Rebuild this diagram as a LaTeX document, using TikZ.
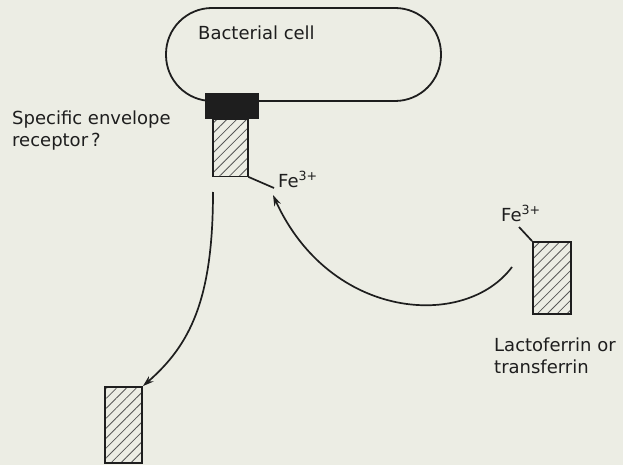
\documentclass[tikz,border=0pt]{standalone}
\usepackage{fontspec}
\setmainfont{DejaVu Sans}
\usetikzlibrary{patterns.meta,arrows.meta}
\definecolor{paper}{RGB}{236,237,228}
\definecolor{ink}{RGB}{30,30,30}
\tikzset{
  lbl/.style={font=\fontsize{18}{22}\selectfont, text=ink, inner sep=0pt, align=left},
  hatchbox/.style={draw=ink, line width=1.8pt, inner sep=0pt,
    pattern={Lines[angle=45,distance=7pt,line width=0.8pt]}, pattern color=ink!75},
  conn/.style={draw=ink, line width=1.7pt},
  arr/.style={conn, -{Stealth[length=11pt,width=7pt]}}
}
\begin{document}
\begin{tikzpicture}[x=1pt,y=-1pt]
\fill[paper] (0,0) rectangle (623,465);
\useasboundingbox (0,0) rectangle (623,465);
% bacterial cell
\node[draw=ink, line width=1.8pt, rounded corners=46pt, minimum width=275pt, minimum height=93pt, inner sep=0pt] (cell) at (303.5,54.5) {};
\node[lbl, anchor=base west] (celltxt) at (198,40) {Bacterial cell};
% receptor
\node[fill=ink, draw=ink, minimum width=53pt, minimum height=25pt, inner sep=0pt] (rec) at (231.5,106) {};
\node[hatchbox, minimum width=35pt, minimum height=57pt] (h1) at (230.5,148) {};
\node[lbl, anchor=base west] (rectxt) at (12,147) {Specific envelope\\receptor\,?};
% iron on receptor-bound protein
\node[lbl, anchor=base west] (fe1) at (278,187) {Fe\textsuperscript{3+}};
\coordinate (fe1l) at (274,188);
\draw[conn] (h1.south east) -- (fe1l);
% lactoferrin
\node[hatchbox, minimum width=38pt, minimum height=72pt] (h2) at (552,278) {};
\node[lbl, anchor=base west] (fe2) at (501,221) {Fe\textsuperscript{3+}};
\coordinate (fe2l) at (519,227);
\draw[conn] (fe2l) -- (h2.north west);
\node[lbl, anchor=base west] (lftxt) at (494,373) {Lactoferrin or\\transferrin};
% released protein
\node[hatchbox, minimum width=37pt, minimum height=76pt] (h3) at (123.5,425) {};
% arrows
\coordinate (a1s) at (213,192);
\draw[arr] (a1s) .. controls (213,300) and (190,345) .. (h3.north east);
\coordinate (a2s) at (512,267);
\coordinate (a2e) at (273,195);
\draw[arr] (a2s) .. controls (465,330) and (330,320) .. (a2e);
\end{tikzpicture}
\end{document}
